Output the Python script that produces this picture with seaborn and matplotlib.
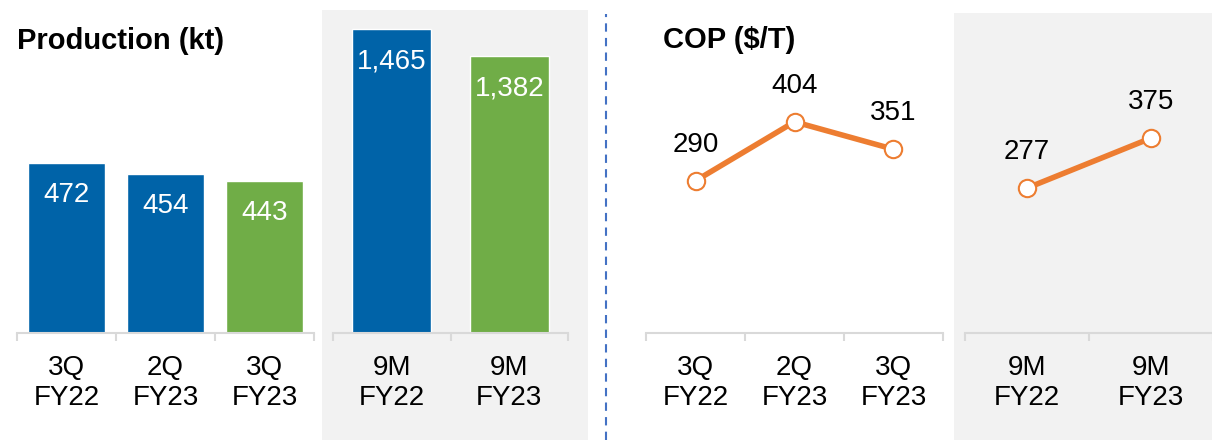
import matplotlib
matplotlib.use("Agg")
import matplotlib.pyplot as plt
from matplotlib.patches import Rectangle
from matplotlib.lines import Line2D
import seaborn as sns

# data
prod_q_labels = ["3Q\nFY22", "2Q\nFY23", "3Q\nFY23"]
prod_q_values = [472, 454, 443]
prod_y_labels = ["9M\nFY22", "9M\nFY23"]
prod_y_values = [1465, 1382]

cop_q_labels = ["3Q\nFY22", "2Q\nFY23", "3Q\nFY23"]
cop_q_values = [290, 404, 351]
cop_y_labels = ["9M\nFY22", "9M\nFY23"]
cop_y_values = [277, 375]

BLUE = "#0063A8"
GREEN = "#70AD47"
ORANGE = "#ED7D31"
GRAY_BG = "#F2F2F2"
AXIS_GRAY = "#D9D9D9"

sns.set_theme(style="white")
plt.rcParams["font.family"] = ["Liberation Sans", "DejaVu Sans"]
plt.rcParams["text.color"] = "black"

W, H = 1212, 440
fig = plt.figure(figsize=(W / 100, H / 100), dpi=100)


def px_rect(x0, y0, x1, y1):
    # pixel box (top-left origin) -> figure fraction [l, b, w, h]
    return [x0 / W, (H - y1) / H, (x1 - x0) / W, (y1 - y0) / H]


# shaded panels for the 9M figures (behind the axes)
for x0, y0, x1 in [(322, 10, 588), (954, 13, 1212)]:
    l, b, w, h = px_rect(x0, y0, x1, H)
    fig.patches.append(Rectangle((l, b), w, h, transform=fig.transFigure,
                                 facecolor=GRAY_BG, edgecolor="none", zorder=-2))

# dashed divider
fig.lines.append(Line2D([606 / W, 606 / W], [0, (H - 14) / H], transform=fig.transFigure,
                        color="#4472C4", lw=1.5, linestyle=(0, (4, 3)), zorder=-1))


def style_axis(ax, n):
    ax.set_facecolor("none")
    ax.set_xlim(-0.5, n - 0.5)
    for s in ["top", "left", "right"]:
        ax.spines[s].set_visible(False)
    ax.spines["bottom"].set_color(AXIS_GRAY)
    ax.spines["bottom"].set_linewidth(1.5)
    ax.set_yticks([])
    ax.set_xlabel("")
    ax.set_ylabel("")
    ax.set_xticks([i - 0.5 for i in range(n + 1)], minor=True)
    ax.tick_params(axis="x", which="minor", bottom=True, length=6, width=1.5,
                   color=AXIS_GRAY, direction="out")
    ax.tick_params(axis="x", which="major", bottom=True, length=0, pad=16,
                   labelsize=20, labelcolor="black")
    for t in ax.get_xticklabels():
        t.set_linespacing(1.2)


def bar_panel(box, labels, values, colors, width, ylim):
    ax = fig.add_axes(px_rect(*box))
    sns.barplot(x=labels, y=values, hue=labels, palette=colors, width=width,
                saturation=1, legend=False, ax=ax)
    ax.set_ylim(*ylim)
    for i, v in enumerate(values):
        ax.annotate(f"{v:,}", (i, v), xytext=(0, -23), textcoords="offset points",
                    ha="center", va="center", color="white", fontsize=20)
    style_axis(ax, len(values))
    return ax


def line_panel(box, labels, values, ylim):
    ax = fig.add_axes(px_rect(*box))
    sns.pointplot(x=labels, y=values, color=ORANGE, errorbar=None, ax=ax,
                  linewidth=4, markers="o", markersize=12.5,
                  markerfacecolor="white", markeredgecolor=ORANGE, markeredgewidth=1.5)
    ax.set_ylim(*ylim)
    for i, v in enumerate(values):
        ax.annotate(f"{v}", (i, v), xytext=(0, 26), textcoords="offset points",
                    ha="center", va="center", color="black", fontsize=20)
    style_axis(ax, len(values))
    return ax


bar_panel((17, 10, 314, 333), prod_q_labels, prod_q_values, [BLUE, BLUE, GREEN], 0.78, (198, 719))
bar_panel((333, 10, 568, 333), prod_y_labels, prod_y_values, [BLUE, GREEN], 0.67, (530, 1524))
line_panel((646, 10, 943, 333), cop_q_labels, cop_q_values, (-4, 620))
line_panel((965, 10, 1213, 333), cop_y_labels, cop_y_values, (-7, 626))

fig.text(17 / W, (H - 49) / H, "Production (kt)", fontsize=21, fontweight="bold",
         ha="left", va="baseline", color="black")
fig.text(663 / W, (H - 48) / H, "COP ($/T)", fontsize=21, fontweight="bold",
         ha="left", va="baseline", color="black")

fig.savefig("out.png", dpi=100)
